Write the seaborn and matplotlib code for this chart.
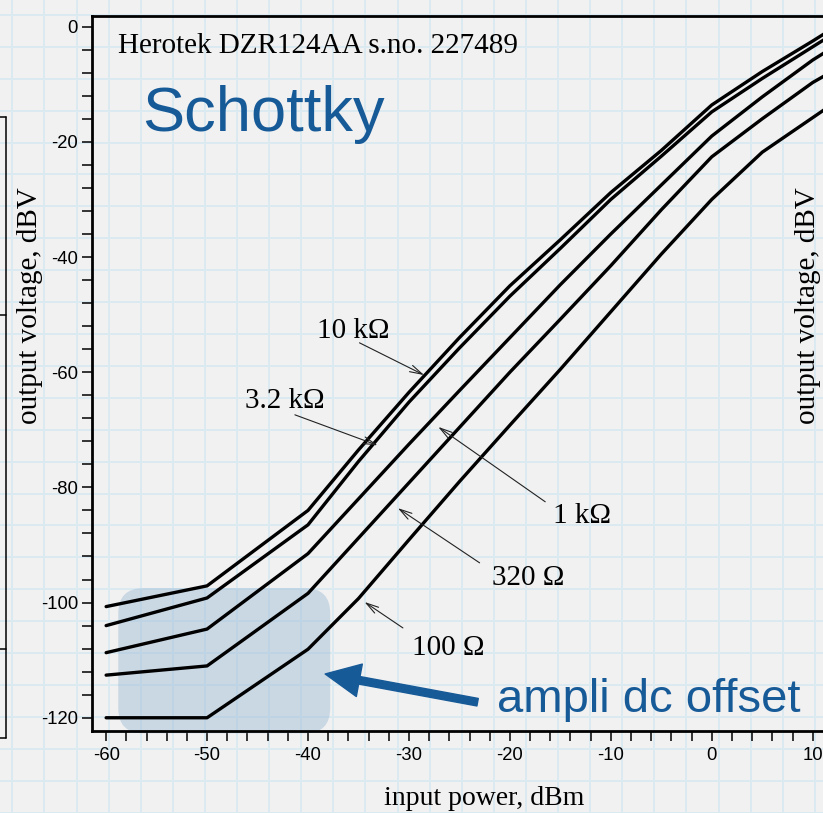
import numpy as np
import pandas as pd
import matplotlib
matplotlib.use('Agg')
import matplotlib.pyplot as plt
import seaborn as sns
from matplotlib.patches import FancyBboxPatch, FancyArrowPatch
from matplotlib.ticker import MultipleLocator

# ---------------- data ----------------
input_power = [-60, -50, -40, -35, -30, -25, -20, -15, -10, -5, 0, 5, 10, 12]
v_10k = [-100.7, -97.1, -84.0, -73.5, -63.5, -54.0, -45.0, -37.0, -28.8, -21.5, -13.6, -7.8, -2.5, -0.3]
v_3k2 = [-104.0, -99.2, -86.5, -75.5, -65.2, -55.8, -46.8, -38.5, -30.0, -22.5, -14.8, -9.0, -3.5, -1.3]
v_1k = [-108.7, -104.6, -91.5, -82.0, -72.5, -63.2, -54.0, -44.8, -36.0, -27.5, -19.0, -12.2, -5.8, -3.6]
v_320 = [-112.6, -111.0, -98.4, -88.8, -79.2, -69.6, -60.0, -50.8, -41.5, -31.8, -22.6, -16.0, -9.7, -7.7]
v_100 = [-120.0, -120.0, -108.1, -99.3, -89.1, -79.0, -69.2, -59.5, -49.5, -39.5, -30.0, -21.8, -15.8, -13.4]
loads = ['10 kΩ', '3.2 kΩ', '1 kΩ', '320 Ω', '100 Ω']
series = [v_10k, v_3k2, v_1k, v_320, v_100]

x_ticks = [-60, -50, -40, -30, -20, -10, 0, 10]
y_ticks = [-120, -100, -80, -60, -40, -20, 0]

title = 'Herotek DZR124AA s.no. 227489'
x_label = 'input power, dBm'
y_label = 'output voltage, dBV'

# curve labels: (text position, arrow start, arrow end) in data units
label_text_pos = [(-39.1, -54.1), (-46.2, -66.2), (-15.7, -86.2), (-21.8, -97.0), (-29.7, -109.1)]
label_arrow_from = [(-34.9, -54.9), (-41.3, -67.4), (-16.5, -82.5), (-23.0, -93.1), (-30.6, -104.4)]
label_arrow_to = [(-28.5, -60.5), (-33.1, -72.7), (-27.1, -69.5), (-31.1, -83.6), (-34.4, -99.9)]

df = pd.DataFrame({
    'pin': np.concatenate([input_power] * len(loads)),
    'vout': np.concatenate(series),
    'load': np.repeat(loads, len(input_power)),
})

# ---------------- style ----------------
sns.set_style('white')
plt.rcParams['font.family'] = ['Liberation Sans', 'DejaVu Sans']
plt.rcParams['axes.unicode_minus'] = False
serif = ['Liberation Serif', 'DejaVu Serif']
blue = '#175a98'
serif_size = 21

W, H = 823, 813
fig = plt.figure(figsize=(W / 100, H / 100), dpi=100)
fig.patch.set_facecolor('#f1f1f1')

# graph-paper background
bg = fig.add_axes([0, 0, 1, 1], zorder=0)
bg.set_xlim(0, W)
bg.set_ylim(H, 0)
bg.axis('off')
for gx in np.arange(12.3, W, 32.1):
    bg.axvline(gx, color='#dbe9f0', lw=1.4, zorder=0)
for gy in np.arange(15.0, H, 31.9):
    bg.axhline(gy, color='#dbe9f0', lw=1.4, zorder=0)
# edge of another sheet on the left
bg.plot([6, 6], [117, 738], color='black', lw=1.1)
for yy in [117, 315, 649, 738]:
    bg.plot([0, 6], [yy, yy], color='black', lw=1.1)

# main axes
ax = fig.add_axes([92 / W, 1 - 731 / H, 751 / W, (731 - 15.7) / H], zorder=1)
ax.patch.set_alpha(0)

# translucent highlight box
box = FancyBboxPatch((-58.8, -122.7), 21.0, 25.2,
                     boxstyle='round,pad=0,rounding_size=2.5',
                     mutation_aspect=1.755, transform=ax.transData,
                     facecolor=(155 / 255, 186 / 255, 213 / 255), alpha=0.45,
                     edgecolor='none', zorder=1.5, clip_on=False)
ax.add_patch(box)

sns.lineplot(data=df, x='pin', y='vout', hue='load', hue_order=loads,
             palette=['black'] * len(loads), legend=False, sort=False,
             lw=2.4, ax=ax, zorder=3)

ax.set_xlim(-61.4, 13.0)
ax.set_ylim(-122.3, 1.9)
ax.set_xticks(x_ticks)
ax.set_yticks(y_ticks)
ax.set_xticklabels([str(t) for t in x_ticks])
ax.set_yticklabels([str(t) for t in y_ticks])
ax.xaxis.set_minor_locator(MultipleLocator(2))
ax.yaxis.set_minor_locator(MultipleLocator(4))
ax.tick_params(which='both', direction='out', length=7, width=1.1, color='black',
               bottom=True, left=True, top=False, right=False)
ax.tick_params(axis='x', which='major', labelsize=13.3, pad=4.5, labelcolor='black')
ax.tick_params(axis='y', which='major', labelsize=13.3, pad=3, labelcolor='black')
for s in ax.spines.values():
    s.set_visible(True)
    s.set_linewidth(2.0)
    s.set_color('black')

ax.set_xlabel(x_label, family=serif, fontsize=20, color='black')
ax.xaxis.set_label_coords(0.522, -0.077)
ax.set_ylabel(y_label, family=serif, fontsize=serif_size, color='black')
ax.yaxis.set_label_coords(-0.065, 0.594)

ax.text(-58.8, -4.6, title, family=serif, fontsize=serif_size, ha='left', va='baseline', color='black')
ax.text(-56.4, -18.1, 'Schottky', fontsize=45.5, color=blue, ha='left', va='baseline')
ax.text(-21.3, -119.0, 'ampli dc offset', fontsize=34, color=blue, ha='left', va='baseline')

for lab, tp, a0, a1 in zip(loads, label_text_pos, label_arrow_from, label_arrow_to):
    ax.text(tp[0], tp[1], lab, family=serif, fontsize=serif_size, ha='left', va='baseline', color='black')
    ax.annotate('', xy=a1, xytext=a0,
                arrowprops=dict(arrowstyle='->,head_length=0.9,head_width=0.25',
                                lw=0.8, color='#222222', shrinkA=0, shrinkB=0))

arrow = FancyArrowPatch(posA=(-23.2, -117.3), posB=(-38.3, -112.4),
                        arrowstyle='simple,head_length=1.0,head_width=0.95,tail_width=0.22',
                        mutation_scale=25, color=blue, transform=ax.transData,
                        shrinkA=0, shrinkB=0, zorder=4, clip_on=False)
ax.add_patch(arrow)

# label of a neighbouring sheet at the right edge
fig.text(808 / W, 1 - 306 / H, y_label, rotation=90, ha='center', va='center',
         family=serif, fontsize=serif_size, color='black')

fig.savefig('out.png', dpi=100, facecolor=fig.get_facecolor())
